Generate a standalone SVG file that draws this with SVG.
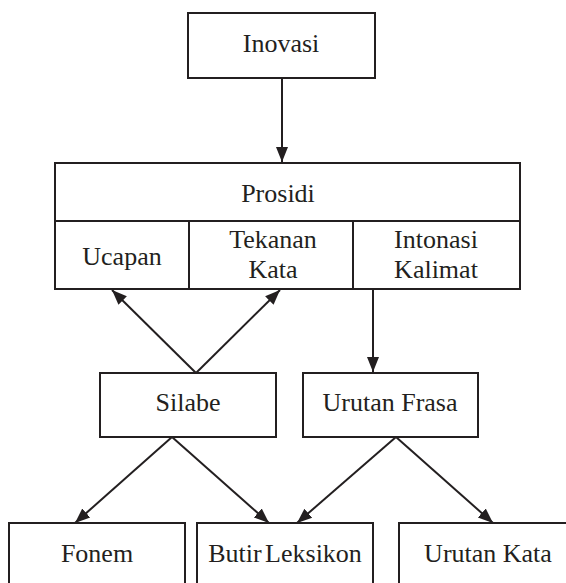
<svg xmlns="http://www.w3.org/2000/svg" width="566" height="583" viewBox="0 0 566 583">
<style>
.box{fill:#fff;stroke:#231f20;stroke-width:2}
.ln{fill:none;stroke:#231f20;stroke-width:2}
.t{fill:#231f20;text-anchor:middle;font-size:26px}
</style>
<defs>
<marker id="ah" markerUnits="userSpaceOnUse" markerWidth="16" markerHeight="14" viewBox="0 0 16 14" refX="15" refY="7" orient="auto">
<path d="M0,1 L15,7 L0,13 Z" fill="#231f20"/>
</marker>
</defs>
<g id="connectors">
<line class="ln" x1="282" y1="78" x2="282" y2="162" marker-end="url(#ah)"/>
<line class="ln" x1="196" y1="373" x2="112" y2="290" marker-end="url(#ah)"/>
<line class="ln" x1="196" y1="373" x2="280" y2="290" marker-end="url(#ah)"/>
<line class="ln" x1="373" y1="289" x2="373" y2="372" marker-end="url(#ah)"/>
<line class="ln" x1="172" y1="437" x2="75" y2="523" marker-end="url(#ah)"/>
<line class="ln" x1="172" y1="437" x2="269" y2="523" marker-end="url(#ah)"/>
<line class="ln" x1="396" y1="437" x2="297" y2="523" marker-end="url(#ah)"/>
<line class="ln" x1="396" y1="437" x2="493" y2="523" marker-end="url(#ah)"/>
</g>
<g id="inovasi">
<rect class="box" x="188" y="13" width="187" height="65"/>
<text class="t" font-family="Liberation Serif" x="281" y="52">Inovasi</text>
</g>
<g id="prosidi">
<rect class="box" x="55" y="163" width="465" height="126"/>
<line class="ln" x1="55" y1="221" x2="520" y2="221"/>
<line class="ln" x1="189" y1="221" x2="189" y2="289"/>
<line class="ln" x1="353" y1="221" x2="353" y2="289"/>
<text class="t" font-family="Liberation Serif" x="278" y="202">Prosidi</text>
</g>
<g id="ucapan">
<text class="t" font-family="Liberation Serif" x="122" y="265">Ucapan</text>
</g>
<g id="tekanan-kata">
<text class="t" font-family="Liberation Serif" x="273" y="248">Tekanan</text>
<text class="t" font-family="Liberation Serif" x="273" y="278">Kata</text>
</g>
<g id="intonasi-kalimat">
<text class="t" font-family="Liberation Serif" x="436" y="248">Intonasi</text>
<text class="t" font-family="Liberation Serif" x="436" y="278">Kalimat</text>
</g>
<g id="silabe">
<rect class="box" x="100" y="373" width="176" height="64"/>
<text class="t" font-family="Liberation Serif" x="188" y="411">Silabe</text>
</g>
<g id="urutan-frasa">
<rect class="box" x="303" y="373" width="175" height="64"/>
<text class="t" font-family="Liberation Serif" x="390" y="411">Urutan Frasa</text>
</g>
<g id="fonem">
<rect class="box" x="9" y="523" width="176" height="80"/>
<text class="t" font-family="Liberation Serif" x="97" y="562">Fonem</text>
</g>
<g id="butir-leksikon">
<rect class="box" x="197" y="523" width="176" height="80"/>
<text class="t" font-family="Liberation Serif" x="285" y="562" word-spacing="-3">Butir Leksikon</text>
</g>
<g id="urutan-kata">
<rect class="box" x="399" y="523" width="180" height="80"/>
<text class="t" font-family="Liberation Serif" x="488" y="562">Urutan Kata</text>
</g>
</svg>
